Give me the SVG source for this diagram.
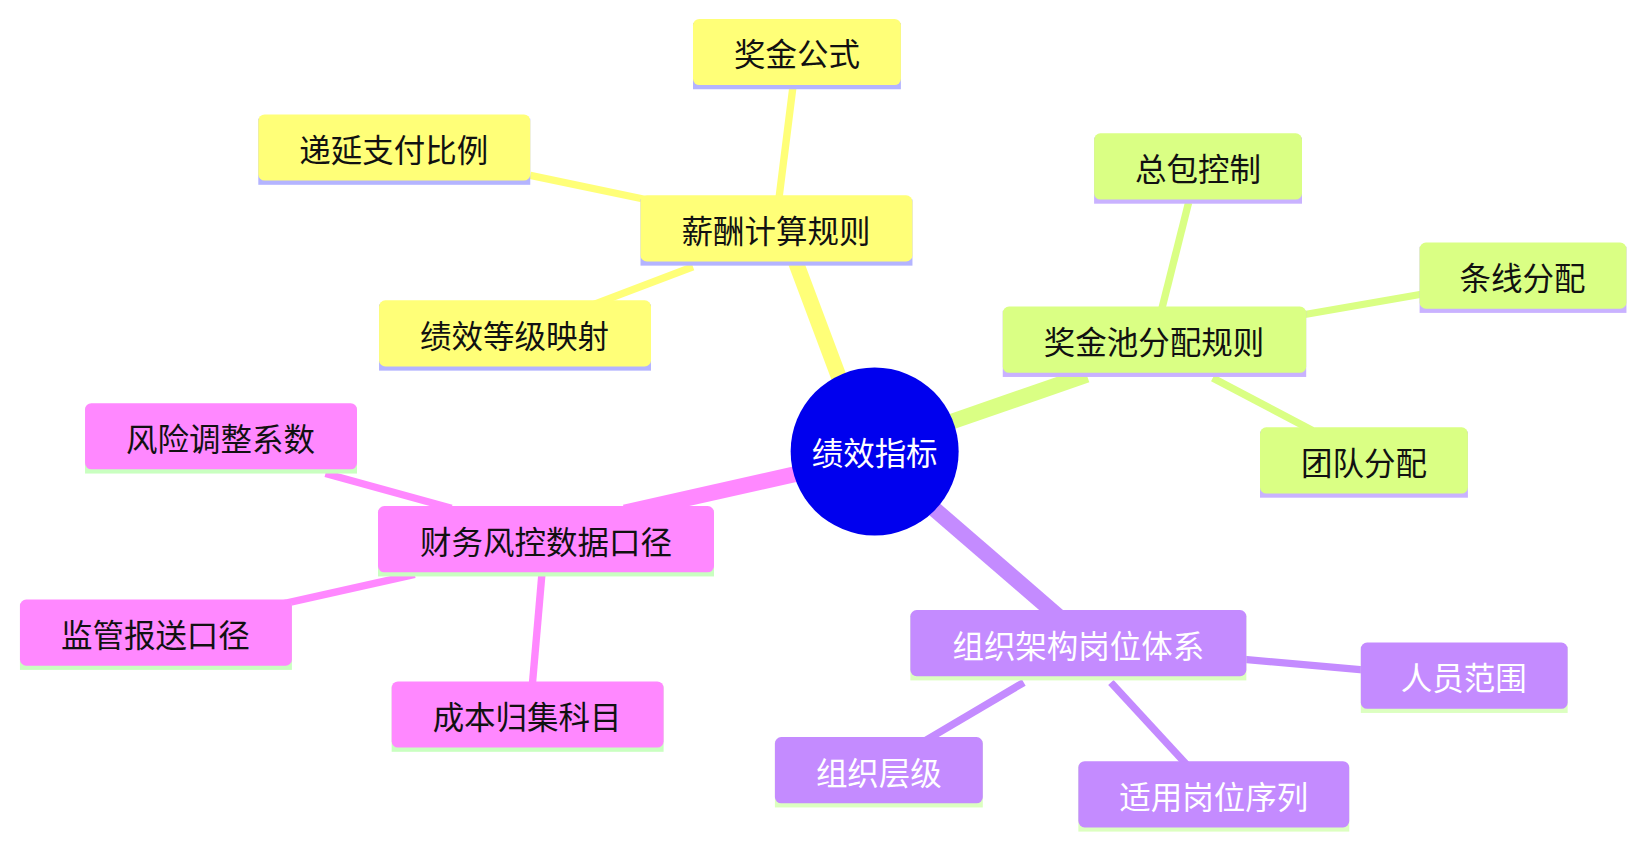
<svg xmlns="http://www.w3.org/2000/svg" width="1644" height="848" viewBox="0 0 1644 848">
<style>
text{font-family:"Noto Sans CJK SC","Noto Sans",sans-serif;font-size:30px;text-anchor:middle;dominant-baseline:central;fill:#111}
.y rect.b{fill:#ffff78}.y rect.u{fill:#b4b4ff}
.g rect.b{fill:#daff84}.g rect.u{fill:#c9b2ff}
.p rect.b{fill:#ff88ff}.p rect.u{fill:#c9ffc0}
.v rect.b{fill:#c48bff}.v rect.u{fill:#dcffc0}
.v text{fill:#fff}
.ly{stroke:#ffff78}.lg{stroke:#daff84}.lp{stroke:#ff88ff}.lv{stroke:#c48bff}
#edges line{stroke-linecap:butt}
</style>
<rect width="1644" height="848" fill="#fff"/>
<g transform="scale(1.05)">
<g id="edges">
<line class="ly" x1="800" y1="362" x2="758" y2="250" stroke-width="15"/>
<line class="lg" x1="905" y1="402" x2="1035" y2="357" stroke-width="15"/>
<line class="lp" x1="760" y1="451" x2="595" y2="488" stroke-width="15"/>
<line class="lv" x1="890" y1="485" x2="1008" y2="587" stroke-width="15"/>
<line class="ly" x1="742" y1="188" x2="755" y2="84" stroke-width="7"/>
<line class="ly" x1="615" y1="190" x2="505" y2="167" stroke-width="7"/>
<line class="ly" x1="660" y1="254" x2="560" y2="292" stroke-width="7"/>
<line class="lg" x1="1106" y1="296" x2="1132" y2="193" stroke-width="7"/>
<line class="lg" x1="1240" y1="300" x2="1355" y2="280" stroke-width="7"/>
<line class="lg" x1="1155" y1="360" x2="1250" y2="410" stroke-width="7"/>
<line class="lp" x1="430" y1="484" x2="310" y2="451" stroke-width="7"/>
<line class="lp" x1="395" y1="547" x2="265" y2="576" stroke-width="7"/>
<line class="lp" x1="516" y1="548" x2="507" y2="652" stroke-width="7"/>
<line class="lv" x1="1185" y1="628" x2="1298" y2="638" stroke-width="7"/>
<line class="lv" x1="975" y1="650" x2="880" y2="706" stroke-width="7"/>
<line class="lv" x1="1058" y1="650" x2="1130" y2="728" stroke-width="7"/>
</g>
<g id="center"><circle cx="833" cy="430" r="80" fill="#0000ee"/><text x="833" y="430" style="fill:#fff">绩效指标</text></g>
<g id="n1" class="y"><rect class="u" x="610" y="190" width="259" height="63"/><rect class="b" x="610" y="186" width="259" height="63" rx="6"/><text x="739" y="218">薪酬计算规则</text></g>
<g id="n1a" class="y"><rect class="u" x="660" y="22" width="198" height="63"/><rect class="b" x="660" y="18" width="198" height="63" rx="6"/><text x="759" y="50">奖金公式</text></g>
<g id="n1b" class="y"><rect class="u" x="246" y="113" width="259" height="63"/><rect class="b" x="246" y="109" width="259" height="63" rx="6"/><text x="375" y="141">递延支付比例</text></g>
<g id="n1c" class="y"><rect class="u" x="361" y="290" width="259" height="63"/><rect class="b" x="361" y="286" width="259" height="63" rx="6"/><text x="490" y="318">绩效等级映射</text></g>
<g id="n2" class="g"><rect class="u" x="955" y="296" width="289" height="63"/><rect class="b" x="955" y="292" width="289" height="63" rx="6"/><text x="1099" y="324">奖金池分配规则</text></g>
<g id="n2a" class="g"><rect class="u" x="1042" y="131" width="198" height="63"/><rect class="b" x="1042" y="127" width="198" height="63" rx="6"/><text x="1141" y="159">总包控制</text></g>
<g id="n2b" class="g"><rect class="u" x="1352" y="235" width="197" height="63"/><rect class="b" x="1352" y="231" width="197" height="63" rx="6"/><text x="1450" y="263">条线分配</text></g>
<g id="n2c" class="g"><rect class="u" x="1200" y="411" width="198" height="63"/><rect class="b" x="1200" y="407" width="198" height="63" rx="6"/><text x="1299" y="439">团队分配</text></g>
<g id="n3" class="p"><rect class="u" x="360" y="486" width="320" height="63"/><rect class="b" x="360" y="482" width="320" height="63" rx="6"/><text x="520" y="514">财务风控数据口径</text></g>
<g id="n3a" class="p"><rect class="u" x="81" y="388" width="259" height="63"/><rect class="b" x="81" y="384" width="259" height="63" rx="6"/><text x="210" y="416">风险调整系数</text></g>
<g id="n3b" class="p"><rect class="u" x="19" y="575" width="259" height="63"/><rect class="b" x="19" y="571" width="259" height="63" rx="6"/><text x="148" y="603">监管报送口径</text></g>
<g id="n3c" class="p"><rect class="u" x="373" y="653" width="259" height="63"/><rect class="b" x="373" y="649" width="259" height="63" rx="6"/><text x="502" y="681">成本归集科目</text></g>
<g id="n4" class="v"><rect class="u" x="867" y="585" width="320" height="63"/><rect class="b" x="867" y="581" width="320" height="63" rx="6"/><text x="1027" y="613">组织架构岗位体系</text></g>
<g id="n4a" class="v"><rect class="u" x="1296" y="616" width="197" height="63"/><rect class="b" x="1296" y="612" width="197" height="63" rx="6"/><text x="1394" y="644">人员范围</text></g>
<g id="n4b" class="v"><rect class="u" x="738" y="706" width="198" height="63"/><rect class="b" x="738" y="702" width="198" height="63" rx="6"/><text x="837" y="734">组织层级</text></g>
<g id="n4c" class="v"><rect class="u" x="1027" y="729" width="258" height="63"/><rect class="b" x="1027" y="725" width="258" height="63" rx="6"/><text x="1156" y="757">适用岗位序列</text></g>
</g>
</svg>
